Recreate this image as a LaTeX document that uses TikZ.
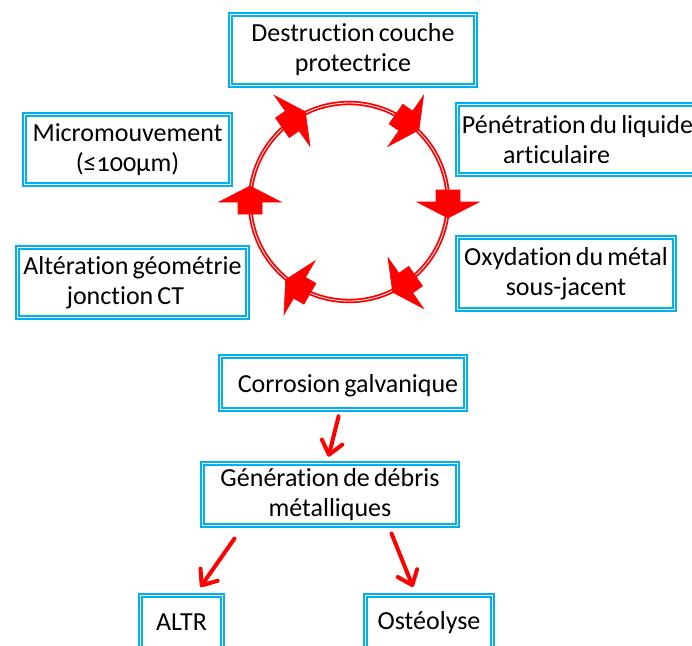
\documentclass[tikz,border=0pt]{standalone}
\usepackage{fontspec}
\setmainfont{Carlito}[WordSpace=0.7, Ligatures=NoCommon]
\usetikzlibrary{arrows.meta,calc}
\definecolor{boxblue}{RGB}{0,176,240}
\begin{document}
\begin{tikzpicture}[x=1pt,y=1pt,
  box/.style={draw=boxblue, line width=2pt, double=white, double distance=1pt,
    fill=white, inner sep=0pt, align=center, text=black,
    font=\fontsize{26}{30}\selectfont},
  flow/.style={draw=red, line width=4pt, line cap=round,
    -{Straight Barb[length=13pt,width=21pt,line cap=round,line join=round]}},
  ring/.style={draw=red, line width=1.8pt, double=white, double distance=0.8pt},
  marker/.style={fill=red, draw=red, line width=0.6pt, line join=miter}
]
\useasboundingbox (0,0) rectangle (692,-645);
\clip (0,0) rectangle (692,-645);

% cycle boxes
\node[box, minimum width=245pt, minimum height=71pt] (D) at (353,-50)
  {Destruction couche\\protectrice};
\node[box, minimum width=206pt, minimum height=70pt] (M) at (127.5,-149.5)
  {Micromouvement\\({\addfontfeatures{Numbers=OldStyle}≤100µm})};
\node[box, minimum width=230pt, minimum height=70pt] (A) at (132.5,-282.5)
  {Altération géométrie\\jonction CT\hspace*{14pt}};
\node[box, minimum width=240pt, minimum height=70pt] (P) at (577.5,-139.5)
  {Pénétration du liquide\\articulaire\hspace*{42pt}};
\node[box, minimum width=217pt, minimum height=72pt] (O) at (566,-273.5)
  {Oxydation du métal\\sous-jacent};

% ring
\draw[ring] (349,-202) circle[radius=99];
\begin{scope}[shift={(349,-202)}]
  \foreach \a in {180,125,55,0,-55,-120}{
    \begin{scope}[shift={(\a:99)}, rotate=\a]
      \filldraw[marker] (-31,0) -- (0,-16) -- (31,0) -- (12,0) -- (12,12)
        -- (-12,12) -- (-12,0) -- cycle;
    \end{scope}
  }
\end{scope}

% lower chain
\node[box, minimum width=245pt, minimum height=53pt, text depth=-6pt] (C) at (343,-383)
  {\hspace*{10pt}Corrosion galvanique};
\node[box, minimum width=255pt, minimum height=62pt] (G) at (330,-494.5)
  {Génération de débris\\métalliques};
\node[box, minimum width=82pt, minimum height=55pt] (L) at (181.5,-622.5) {ALTR};
\node[box, minimum width=127pt, minimum height=55pt] (S) at (429,-622.5) {Ostéolyse};

\draw[flow, shorten <=6pt, shorten >=6pt] ([xshift=-3pt]C.south) -- ([xshift=-3pt]G.north);
\draw[flow] ($(G.south west)+(33,-12)$) -- ($(L.north)+(19,7)$);
\draw[flow] ($(G.south east)+(-67,-7)$) -- ($(S.north)+(-16,7)$);
\end{tikzpicture}
\end{document}
